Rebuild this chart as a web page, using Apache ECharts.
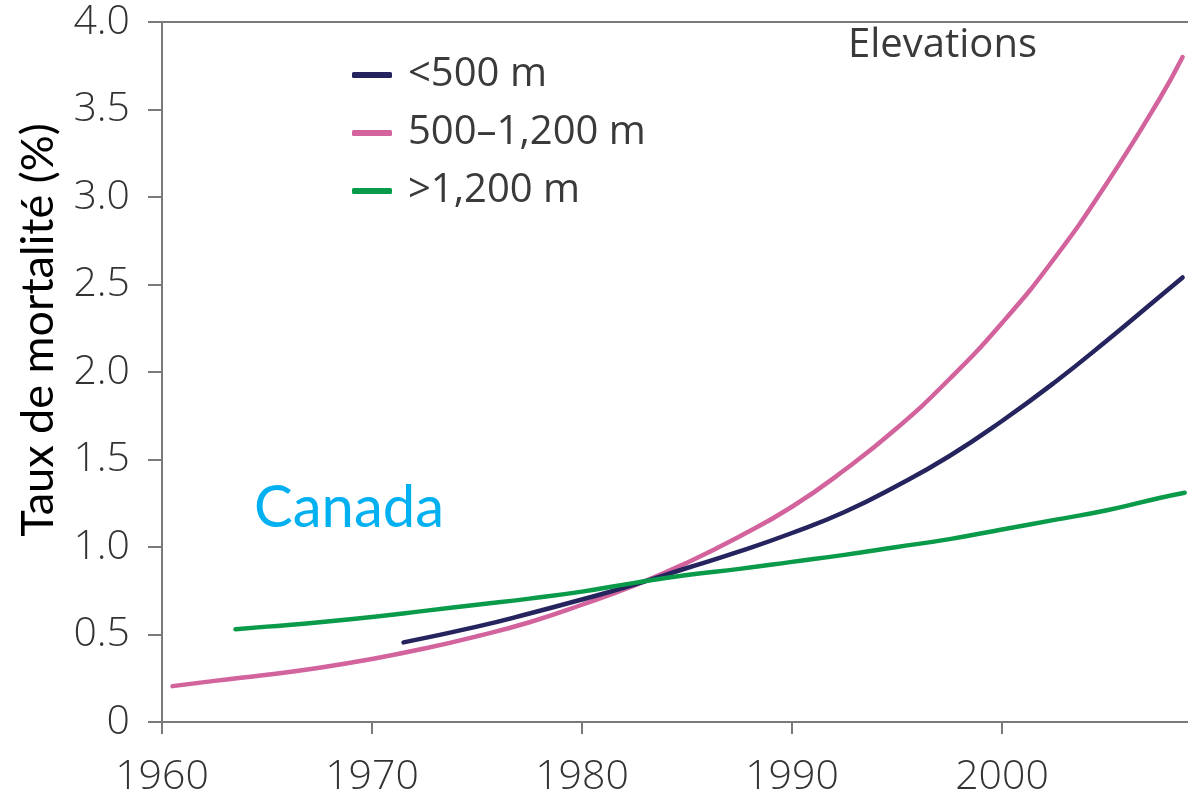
<!DOCTYPE html>
<html>
<head>
<meta charset="utf-8">
<script src="https://cdn.jsdelivr.net/npm/echarts@6/dist/echarts.min.js"></script>
<style>
html,body{margin:0;padding:0;background:#fff;}
#chart{width:1188px;height:800px;}
</style>
</head>
<body>
<div id="chart"></div>
<script>
// ---- data ----
const seriesNames = ['<500 m', '500\u20131,200 m', '>1,200 m'];

const yearsLow = [1971.5, 1975, 1977.5, 1980, 1982.5, 1985, 1987.5, 1990, 1992.5, 1995, 1997.5, 2000, 2002.5, 2005, 2007.5, 2008.6];
const valuesLow = [0.455, 0.545, 0.62, 0.70, 0.785, 0.88, 0.975, 1.08, 1.20, 1.35, 1.52, 1.72, 1.94, 2.18, 2.43, 2.54];

const yearsMid = [1960.5, 1962.5, 1965, 1967.5, 1970, 1972.5, 1975, 1977.5, 1980, 1982.5, 1985, 1987.5, 1990, 1992.5, 1995, 1997.5, 2000, 2002.5, 2005, 2007.5, 2008.6];
const valuesMid = [0.205, 0.235, 0.27, 0.31, 0.36, 0.42, 0.49, 0.57, 0.67, 0.78, 0.91, 1.06, 1.23, 1.44, 1.68, 1.96, 2.28, 2.65, 3.08, 3.56, 3.80];

const yearsHigh = [1963.5, 1965, 1967.5, 1970, 1972.5, 1975, 1977.5, 1980, 1982.5, 1985, 1987.5, 1990, 1992.5, 1995, 1997.5, 2000, 2002.5, 2005, 2007.5, 2008.7];
const valuesHigh = [0.53, 0.545, 0.57, 0.60, 0.635, 0.67, 0.705, 0.745, 0.795, 0.84, 0.875, 0.915, 0.955, 1.00, 1.045, 1.10, 1.155, 1.21, 1.28, 1.31];

const xTickLabels = ['1960', '1970', '1980', '1990', '2000'];
const yTickLabels = ['0', '0.5', '1.0', '1.5', '2.0', '2.5', '3.0', '3.5', '4.0'];

const yAxisTitle = 'Taux de mortalit\u00e9 (%)';
const regionLabel = 'Canada';
const legendTitle = 'Elevations';

// ---- chart ----
const colors = ['#25245e', '#d2639c', '#0a9b4a'];
const pair = (xs, ys) => xs.map((x, i) => [x, ys[i]]);
const axisGrey = '#7a7a7a';
const labelFont = '"Open Sans", sans-serif';

const chart = echarts.init(document.getElementById('chart'), null, {renderer: 'canvas'});

const option = {
  backgroundColor: '#ffffff',
  animation: false,
  color: colors,
  grid: {left: 162, top: 22, right: -24, bottom: 78, containLabel: false, outerBoundsMode: 'none'},
  legend: {
    show: true,
    orient: 'vertical',
    left: 352,
    top: 54,
    padding: 0,
    itemWidth: 40,
    itemHeight: 6,
    itemGap: 16,
    icon: 'roundRect',
    data: seriesNames,
    textStyle: {
      fontFamily: labelFont,
      fontSize: 40,
      lineHeight: 42,
      color: '#3a3a3a',
      padding: [0, 0, 0, 11]
    }
  },
  xAxis: [{
    type: 'value',
    min: 1960,
    max: 2010,
    interval: 10,
    position: 'bottom',
    splitLine: {show: false},
    axisLine: {show: true, lineStyle: {color: axisGrey, width: 2}},
    axisTick: {show: true, length: 12, inside: false, lineStyle: {color: axisGrey, width: 2}},
    axisLabel: {
      margin: 35,
      fontFamily: labelFont,
      fontSize: 41,
      fontWeight: 300,
      color: '#333333',
      showMaxLabel: false,
      formatter: function (v) {
        const s = String(Math.round(v));
        return xTickLabels.indexOf(s) >= 0 ? s : '';
      }
    }
  }, {
    type: 'value',
    min: 1960,
    max: 2010,
    position: 'top',
    splitLine: {show: false},
    axisLine: {show: true, lineStyle: {color: axisGrey, width: 2}},
    axisTick: {show: false},
    axisLabel: {show: false}
  }],
  yAxis: {
    type: 'value',
    min: 0,
    max: 4,
    interval: 0.5,
    splitLine: {show: false},
    axisLine: {show: true, lineStyle: {color: axisGrey, width: 2}},
    axisTick: {show: true, length: 14, inside: false, lineStyle: {color: axisGrey, width: 2}},
    axisLabel: {
      margin: 32,
      fontFamily: labelFont,
      fontSize: 41,
      fontWeight: 300,
      color: '#333333',
      formatter: function (v) {
        return yTickLabels[Math.round(v / 0.5)];
      }
    }
  },
  graphic: [{
    type: 'text',
    x: 38,
    y: 330,
    rotation: Math.PI / 2,
    style: {
      text: yAxisTitle,
      fontFamily: 'Lato, sans-serif',
      fontSize: 45,
      fill: '#000000',
      align: 'center',
      verticalAlign: 'middle'
    }
  }, {
    type: 'text',
    x: 254,
    y: 508,
    style: {
      text: regionLabel,
      fontFamily: 'Lato, sans-serif',
      fontSize: 58,
      fill: '#00b0f0',
      align: 'left',
      verticalAlign: 'middle'
    }
  }, {
    type: 'text',
    x: 848,
    y: 46,
    style: {
      text: legendTitle,
      fontFamily: labelFont,
      fontSize: 40,
      fill: '#3a3a3a',
      align: 'left',
      verticalAlign: 'middle'
    }
  }],
  series: [{
    name: seriesNames[0],
    type: 'line',
    smooth: true,
    showSymbol: false,
    symbol: 'none',
    lineStyle: {width: 4.5, color: colors[0], cap: 'round'},
    data: pair(yearsLow, valuesLow),
    z: 3
  }, {
    name: seriesNames[1],
    type: 'line',
    smooth: true,
    showSymbol: false,
    symbol: 'none',
    lineStyle: {width: 4.5, color: colors[1], cap: 'round'},
    data: pair(yearsMid, valuesMid),
    z: 2
  }, {
    name: seriesNames[2],
    type: 'line',
    smooth: true,
    showSymbol: false,
    symbol: 'none',
    lineStyle: {width: 4.5, color: colors[2], cap: 'round'},
    data: pair(yearsHigh, valuesHigh),
    z: 4
  }]
};
chart.setOption(option);
</script>
</body>
</html>
